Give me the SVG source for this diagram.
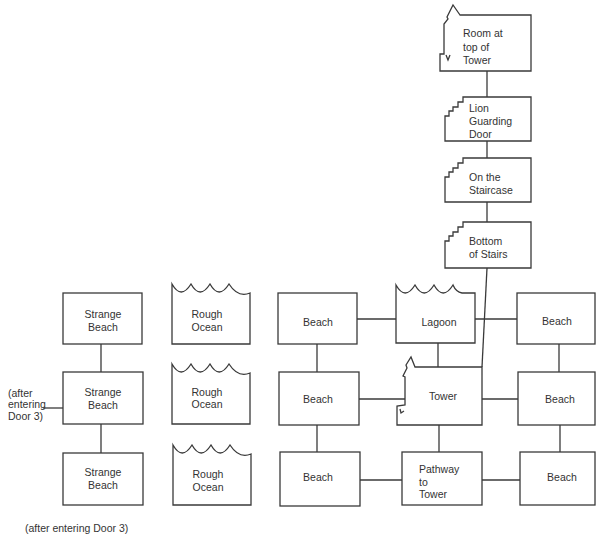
<svg xmlns="http://www.w3.org/2000/svg" width="596" height="536" viewBox="0 0 596 536">
<defs>
<style>
.box{fill:#fff;stroke:#3a3a3a;stroke-width:1.3;stroke-linejoin:miter}
.ln{fill:none;stroke:#3a3a3a;stroke-width:1.3}
text{font-family:"Liberation Sans",Arial,sans-serif;font-size:10.5px;fill:#333}
.c{text-anchor:middle}
</style>
</defs>
<rect width="596" height="536" fill="#fff"/>

<!-- connectors -->
<g id="connectors" class="ln">
<line x1="487" y1="71" x2="487" y2="97"/>
<line x1="487" y1="141" x2="487" y2="158"/>
<line x1="487" y1="202" x2="487" y2="222"/>
<line x1="487" y1="268" x2="482" y2="367"/>
<line x1="101" y1="344" x2="101" y2="372"/>
<line x1="101" y1="424" x2="101" y2="453"/>
<line x1="43" y1="408" x2="63" y2="408"/>
<line x1="357" y1="319" x2="396" y2="319"/>
<line x1="475" y1="319" x2="517" y2="319"/>
<line x1="317" y1="344" x2="317" y2="372"/>
<line x1="438" y1="343" x2="438" y2="367"/>
<line x1="559" y1="344" x2="559" y2="372"/>
<line x1="359" y1="399" x2="405" y2="399"/>
<line x1="482" y1="399" x2="518" y2="399"/>
<line x1="317" y1="425" x2="317" y2="452"/>
<line x1="439" y1="425" x2="439" y2="452"/>
<line x1="560" y1="425" x2="560" y2="452"/>
<line x1="360" y1="480" x2="402" y2="480"/>
<line x1="482" y1="480" x2="520" y2="480"/>
</g>

<!-- tower column -->
<g id="room-top">
<path class="box" d="M460 15 L453 5 L447 17 L448 19 L444 24 L444 54 L440 54 L440 71 L531 71 L531 15 Z"/>
<path class="ln" d="M446 55 L448 60 L450 55"/>
<text x="463" y="37">Room at</text>
<text x="463" y="50.5">top of</text>
<text x="463" y="63.5">Tower</text>
</g>
<g id="lion">
<path class="box" d="M463 97 L463 102 L458 102 L458 107 L453 107 L453 111 L449 111 L449 116 L445 116 L445 141 L531 141 L531 97 Z"/>
<text x="469" y="112">Lion</text>
<text x="469" y="125">Guarding</text>
<text x="469" y="138">Door</text>
</g>
<g id="staircase">
<path class="box" d="M463 158 L463 163 L458 163 L458 168 L453 168 L453 172 L449 172 L449 177 L445 177 L445 202 L531 202 L531 158 Z"/>
<text x="469" y="181">On the</text>
<text x="469" y="194">Staircase</text>
</g>
<g id="bottom-stairs">
<path class="box" d="M463 222 L463 227 L458 227 L458 232 L453 232 L453 236 L449 236 L449 241 L445 241 L445 268 L531 268 L531 222 Z"/>
<text x="469" y="245">Bottom</text>
<text x="469" y="258">of Stairs</text>
</g>

<!-- strange beach column -->
<g id="strange-beach-1">
<rect class="box" x="63" y="293" width="79" height="51"/>
<text class="c" x="103" y="318">Strange</text>
<text class="c" x="103" y="331">Beach</text>
</g>
<g id="strange-beach-2">
<rect class="box" x="63" y="372" width="80" height="52"/>
<text class="c" x="103" y="396">Strange</text>
<text class="c" x="103" y="409">Beach</text>
</g>
<g id="strange-beach-3">
<rect class="box" x="63" y="453" width="80" height="52"/>
<text class="c" x="103" y="476">Strange</text>
<text class="c" x="103" y="489">Beach</text>
</g>

<!-- rough ocean column -->
<g id="rough-ocean-1">
<path class="box" d="M172 344 V284 Q181 300 191 284 Q200 300 210 284 Q219 300 229 284 Q238 298 250 293 V344 Z"/>
<text class="c" x="207" y="318">Rough</text>
<text class="c" x="207" y="331">Ocean</text>
</g>
<g id="rough-ocean-2">
<path class="box" d="M172 424 V364 Q181 380 191 364 Q200 380 210 364 Q219 380 229 364 Q238 378 250 373 V424 Z"/>
<text class="c" x="207" y="396">Rough</text>
<text class="c" x="207" y="408">Ocean</text>
</g>
<g id="rough-ocean-3">
<path class="box" d="M173 505 V445 Q182 461 192 445 Q201 461 211 445 Q220 461 230 445 Q239 459 251 454 V505 Z"/>
<text class="c" x="208" y="478">Rough</text>
<text class="c" x="208" y="491">Ocean</text>
</g>

<!-- island -->
<g id="beach-nw">
<rect class="box" x="278" y="293" width="79" height="51"/>
<text class="c" x="318" y="326">Beach</text>
</g>
<g id="lagoon">
<path class="box" d="M396 343 V285 Q405 301 415 285 Q424 301 434 285 Q443 301 453 285 Q456 292 462 293 L475 293 V343 Z"/>
<text class="c" x="439" y="326">Lagoon</text>
</g>
<g id="beach-ne">
<rect class="box" x="517" y="293" width="78" height="51"/>
<text class="c" x="557" y="325">Beach</text>
</g>
<g id="beach-w">
<rect class="box" x="279" y="372" width="80" height="53"/>
<text class="c" x="318" y="403">Beach</text>
</g>
<g id="tower">
<path class="box" d="M482 367 L415 367 L411 357 L406 365 L407 368 L403 376 L405 377 L405 405 L397 406 L397 425 L482 425 Z"/>
<path class="ln" d="M400 409 L401 413 L404 411"/>
<text class="c" x="443" y="400">Tower</text>
</g>
<g id="beach-e">
<rect class="box" x="518" y="372" width="77" height="53"/>
<text class="c" x="560" y="403">Beach</text>
</g>
<g id="beach-sw">
<rect class="box" x="280" y="452" width="80" height="54"/>
<text class="c" x="318" y="481">Beach</text>
</g>
<g id="pathway">
<rect class="box" x="402" y="452" width="80" height="53"/>
<text x="419" y="473">Pathway</text>
<text x="419" y="486">to</text>
<text x="419" y="498">Tower</text>
</g>
<g id="beach-se">
<rect class="box" x="520" y="452" width="75" height="53"/>
<text class="c" x="562" y="481">Beach</text>
</g>

<!-- notes -->
<g id="notes">
<text x="8" y="397">(after</text>
<text x="8" y="408">entering</text>
<text x="8" y="420">Door 3)</text>
<text x="25" y="532">(after entering Door 3)</text>
</g>
</svg>
